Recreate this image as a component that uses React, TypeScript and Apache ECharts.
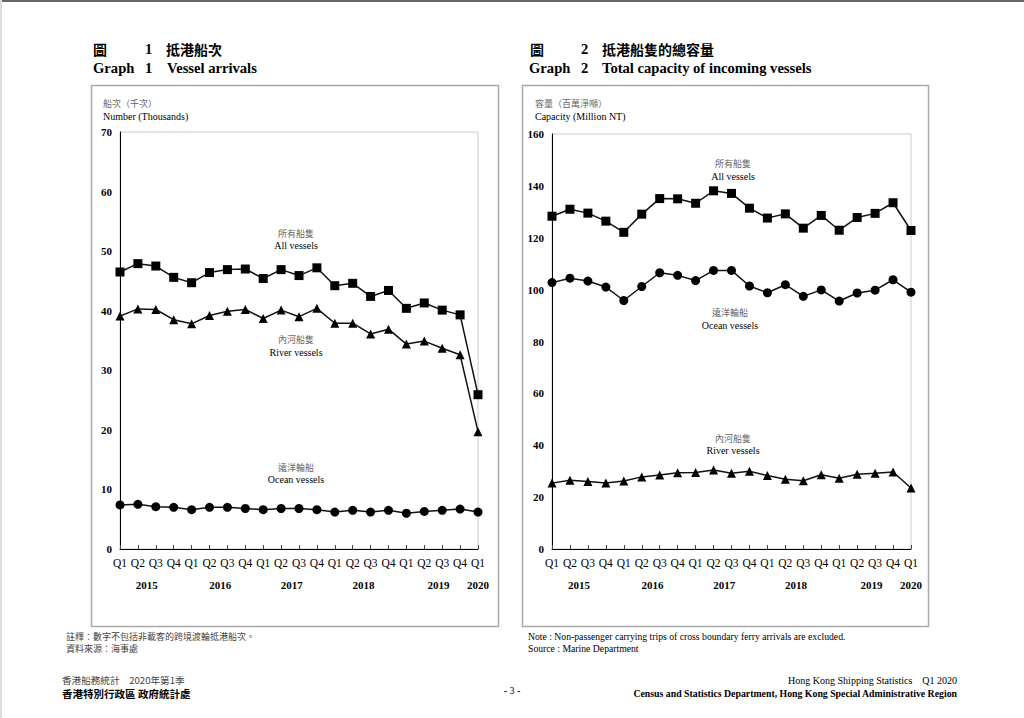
import React, { useEffect, useRef } from "react";
import * as echarts from "echarts";

const quarters = [
  "2015 Q1", "2015 Q2", "2015 Q3", "2015 Q4",
  "2016 Q1", "2016 Q2", "2016 Q3", "2016 Q4",
  "2017 Q1", "2017 Q2", "2017 Q3", "2017 Q4",
  "2018 Q1", "2018 Q2", "2018 Q3", "2018 Q4",
  "2019 Q1", "2019 Q2", "2019 Q3", "2019 Q4",
  "2020 Q1",
];

// year label positions (in quarter-index units) and texts
const yearPositions = [1.5, 5.6, 9.6, 13.6, 17.8, 20];
const yearLabels = ["2015", "2016", "2017", "2018", "2019", "2020"];

// Graph 1: vessel arrivals (thousands)
const arrivalsAll = [46.5, 47.9, 47.5, 45.6, 44.7, 46.4, 46.9, 47.0, 45.4, 46.9, 45.9, 47.2, 44.2, 44.6, 42.4, 43.4, 40.4, 41.3, 40.1, 39.3, 25.9];
const arrivalsRiver = [39.1, 40.3, 40.2, 38.5, 37.8, 39.2, 39.9, 40.2, 38.7, 40.1, 39.0, 40.4, 37.9, 37.9, 36.1, 36.9, 34.4, 34.9, 33.7, 32.6, 19.7];
const arrivalsOcean = [7.4, 7.5, 7.1, 7.0, 6.6, 7.0, 7.0, 6.8, 6.6, 6.8, 6.8, 6.6, 6.2, 6.5, 6.2, 6.5, 6.0, 6.3, 6.5, 6.7, 6.2];

// Graph 2: total capacity (million NT)
const capacityAll = [128.3, 131.0, 129.5, 126.4, 122.1, 129.1, 135.1, 135.0, 133.3, 138.1, 137.1, 131.4, 127.6, 129.2, 123.7, 128.6, 122.9, 127.8, 129.4, 133.5, 122.8];
const capacityOcean = [102.7, 104.4, 103.3, 101.0, 95.8, 101.2, 106.5, 105.5, 103.5, 107.4, 107.4, 101.4, 98.8, 101.9, 97.4, 99.9, 95.6, 98.7, 99.8, 103.8, 99.0];
const capacityRiver = [25.4, 26.5, 26.0, 25.4, 26.2, 27.8, 28.5, 29.4, 29.5, 30.5, 29.2, 30.0, 28.3, 26.9, 26.3, 28.6, 27.3, 28.8, 29.2, 29.7, 23.5];

const SERIF = "'Liberation Serif', 'Times New Roman', serif";
const CJK = "'Noto Sans CJK TC', 'Noto Sans CJK SC', sans-serif";

function catAxis(gridIndex: number) {
  return {
    type: "category",
    gridIndex,
    data: quarters,
    boundaryGap: false,
    axisLine: { show: true, lineStyle: { color: "#000", width: 1 } },
    axisTick: { show: true, inside: true, length: 4, alignWithLabel: true, interval: 0, lineStyle: { color: "#444" } },
    axisLabel: {
      interval: 0,
      margin: 8,
      color: "#000",
      fontFamily: SERIF,
      fontSize: 11.5,
      formatter: (v: string) => v.slice(5),
    },
    splitLine: { show: false },
  };
}

function yearAxis(gridIndex: number) {
  return {
    type: "value",
    gridIndex,
    min: 0,
    max: 20,
    position: "bottom",
    offset: 22,
    axisLine: { show: false },
    axisTick: { show: false },
    splitLine: { show: false },
    axisLabel: {
      customValues: yearPositions,
      margin: 8,
      color: "#000",
      fontFamily: SERIF,
      fontSize: 11,
      fontWeight: "bold",
      formatter: (v: number) => {
        const i = yearPositions.indexOf(v);
        return i >= 0 ? yearLabels[i] : "";
      },
    },
  };
}

function valAxis(gridIndex: number, max: number, interval: number) {
  return {
    type: "value",
    gridIndex,
    min: 0,
    max,
    interval,
    axisLine: { show: true, lineStyle: { color: "#000", width: 1 } },
    axisTick: { show: false },
    splitLine: { show: false },
    axisLabel: {
      margin: 8,
      color: "#000",
      fontFamily: SERIF,
      fontSize: 11,
      fontWeight: "bold",
    },
  };
}

function lineSeries(name: string, data: number[], xi: number, yi: number, symbol: string, size: number) {
  return {
    type: "line",
    name,
    data,
    xAxisIndex: xi,
    yAxisIndex: yi,
    symbol,
    symbolSize: size,
    showAllSymbol: true,
    lineStyle: { color: "#111", width: 1.5 },
    itemStyle: { color: "#000" },
    z: 3,
  };
}

function txt(x: number, y: number, text: string, opts: any = {}) {
  return {
    type: "text",
    x,
    y,
    silent: true,
    style: {
      text,
      fill: opts.fill || "#000",
      font: `${opts.weight || "normal"} ${opts.size || 10}px ${opts.family || SERIF}`,
      align: opts.align || "left",
      verticalAlign: "middle",
    },
  };
}

export default function App() {
  const ref = useRef<HTMLDivElement>(null);

  useEffect(() => {
    if (!ref.current) return;
    const chart = echarts.init(ref.current, undefined, { renderer: "svg" });

    const graphics: any[] = [
      // page edges
      { type: "rect", shape: { x: 0, y: 0, width: 1024, height: 2 }, style: { fill: "#666" }, silent: true },
      { type: "rect", shape: { x: 0, y: 0, width: 2, height: 718 }, style: { fill: "#ddd" }, silent: true },
      // chart boxes
      { type: "rect", shape: { x: 91.5, y: 85.5, width: 407, height: 541 }, style: { fill: "none", stroke: "#aaa", lineWidth: 1.5 }, silent: true, z: -1 },
      { type: "rect", shape: { x: 522.5, y: 85.5, width: 406, height: 541 }, style: { fill: "none", stroke: "#aaa", lineWidth: 1.5 }, silent: true, z: -1 },

      // titles
      txt(93, 49, "圖", { size: 14, weight: "bold", family: CJK }),
      txt(145, 49, "1", { size: 14.6, weight: "bold" }),
      txt(166, 49, "抵港船次", { size: 14, weight: "bold", family: CJK }),
      txt(93, 68, "Graph", { size: 14.6, weight: "bold" }),
      txt(145, 68, "1", { size: 14.6, weight: "bold" }),
      txt(167, 68, "Vessel arrivals", { size: 14.6, weight: "bold" }),

      txt(530, 49, "圖", { size: 14, weight: "bold", family: CJK }),
      txt(581, 49, "2", { size: 14.6, weight: "bold" }),
      txt(602, 49, "抵港船隻的總容量", { size: 14, weight: "bold", family: CJK }),
      txt(529, 68, "Graph", { size: 14.6, weight: "bold" }),
      txt(581, 68, "2", { size: 14.6, weight: "bold" }),
      txt(602, 68, "Total capacity of incoming vessels", { size: 14.6, weight: "bold" }),

      // axis names
      txt(103, 103, "船次（千次）", { size: 9, family: CJK, fill: "#666" }),
      txt(103, 116, "Number (Thousands)", { size: 10 }),
      txt(535, 103, "容量（百萬淨噸）", { size: 9, family: CJK, fill: "#666" }),
      txt(535, 116, "Capacity (Million NT)", { size: 10 }),

      // series annotations, graph 1
      txt(296, 233, "所有船隻", { size: 9, family: CJK, fill: "#666", align: "center" }),
      txt(296, 245, "All vessels", { size: 10, align: "center" }),
      txt(296, 339, "內河船隻", { size: 9, family: CJK, fill: "#666", align: "center" }),
      txt(296, 352, "River vessels", { size: 10, align: "center" }),
      txt(296, 467, "遠洋輪船", { size: 9, family: CJK, fill: "#666", align: "center" }),
      txt(296, 479, "Ocean vessels", { size: 10, align: "center" }),

      // series annotations, graph 2
      txt(733, 163, "所有船隻", { size: 9, family: CJK, fill: "#666", align: "center" }),
      txt(733, 176, "All vessels", { size: 10, align: "center" }),
      txt(730, 312, "遠洋輪船", { size: 9, family: CJK, fill: "#666", align: "center" }),
      txt(730, 325, "Ocean vessels", { size: 10, align: "center" }),
      txt(733, 438, "內河船隻", { size: 9, family: CJK, fill: "#666", align: "center" }),
      txt(733, 450, "River vessels", { size: 10, align: "center" }),

      // notes
      txt(66, 636, "註釋：數字不包括非載客的跨境渡輪抵港船次。", { size: 9, family: CJK, fill: "#444" }),
      txt(66, 648, "資料來源：海事處", { size: 9, family: CJK, fill: "#444" }),
      txt(528, 636, "Note : Non-passenger carrying trips of cross boundary ferry arrivals are excluded.", { size: 9.7 }),
      txt(528, 648, "Source : Marine Department", { size: 9.7 }),

      // footer
      txt(62, 680, "香港船務統計　2020年第1季", { size: 9.6, family: CJK, fill: "#444" }),
      txt(62, 693, "香港特別行政區 政府統計處", { size: 10.5, family: CJK, weight: "bold" }),
      txt(512, 690, "- 3 -", { size: 10, align: "center" }),
      txt(957, 680, "Hong Kong Shipping Statistics    Q1 2020", { size: 10, align: "right" }),
      txt(957, 693, "Census and Statistics Department, Hong Kong Special Administrative Region", { size: 9.8, weight: "bold", align: "right" }),
    ];

    chart.setOption({
      animation: false,
      backgroundColor: "#fff",
      grid: [
        { left: 120, right: 546, top: 132, bottom: 169, show: true, borderColor: "#ccc", borderWidth: 1 },
        { left: 552, right: 113, top: 134, bottom: 169, show: true, borderColor: "#ccc", borderWidth: 1 },
      ],
      xAxis: [catAxis(0), yearAxis(0), catAxis(1), yearAxis(1)],
      yAxis: [valAxis(0, 70, 10), valAxis(1, 160, 20)],
      series: [
        lineSeries("All vessels", arrivalsAll, 0, 0, "rect", 9),
        lineSeries("River vessels", arrivalsRiver, 0, 0, "triangle", 9),
        lineSeries("Ocean vessels", arrivalsOcean, 0, 0, "circle", 9),
        lineSeries("All vessels", capacityAll, 2, 1, "rect", 9),
        lineSeries("Ocean vessels", capacityOcean, 2, 1, "circle", 9),
        lineSeries("River vessels", capacityRiver, 2, 1, "triangle", 9),
      ],
      graphic: graphics,
    });

    return () => chart.dispose();
  }, []);

  return (
    <div
      ref={ref}
      style={{ position: "fixed", left: 0, top: 0, width: 1024, height: 718, background: "#fff" }}
    />
  );
}
